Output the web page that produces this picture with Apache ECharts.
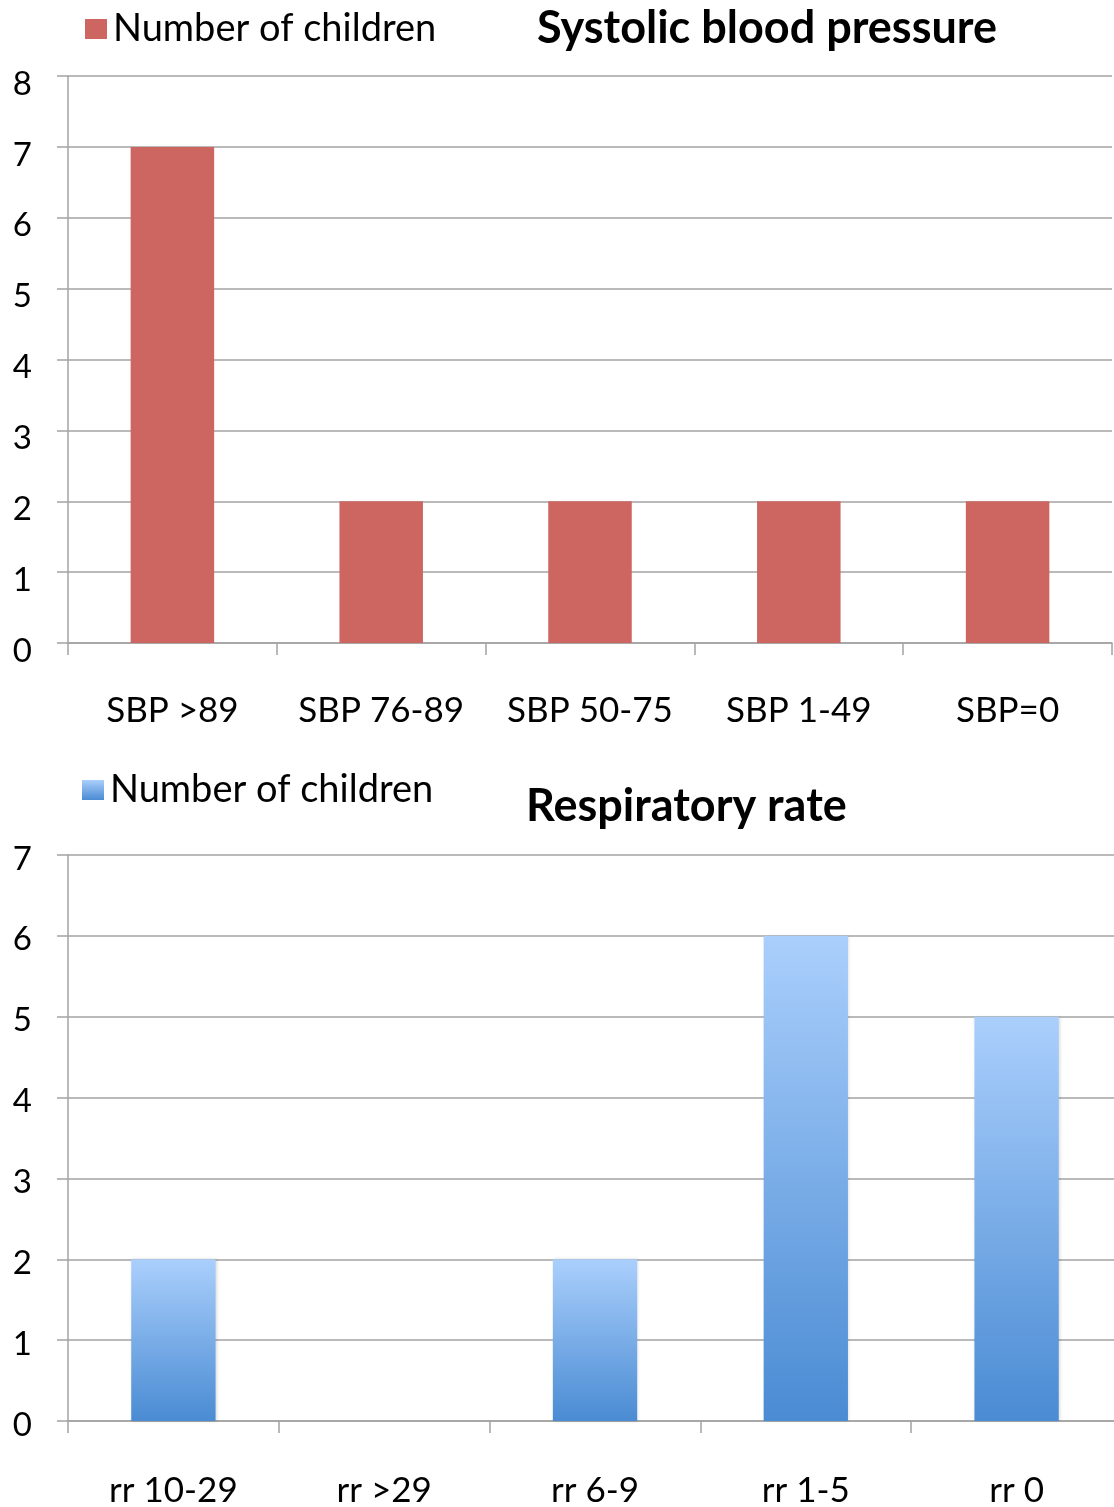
<!DOCTYPE html>
<html>
<head>
<meta charset="utf-8">
<script src="https://cdn.jsdelivr.net/npm/echarts@6/dist/echarts.min.js"></script>
<style>html,body{margin:0;padding:0;background:#fff}#c{width:1114px;height:1507px}</style>
</head>
<body>
<div id="c"></div>
<script>
const sbpCategories = ['SBP >89', 'SBP 76-89', 'SBP 50-75', 'SBP 1-49', 'SBP=0'];
const sbpValues = [7, 2, 2, 2, 2];
const rrCategories = ['rr 10-29', 'rr >29', 'rr 6-9', 'rr 1-5', 'rr 0'];
const rrValues = [2, 0, 2, 6, 5];
const seriesName = 'Number of children';
const titles = ['Systolic blood pressure', 'Respiratory rate'];

const FONT = 'Lato';
const grey = '#a3a3a3';
const chart = echarts.init(document.getElementById('c'), null, {renderer: 'canvas'});
const blueGrad = new echarts.graphic.LinearGradient(0, 0, 0, 1, [
  {offset: 0, color: '#aacffc'},
  {offset: 1, color: '#4a8bd3'}
]);
function yAxis(gi, max, lh) {
  return {
    type: 'value', gridIndex: gi, min: 0, max: max, interval: 1,
    axisLine: {show: true, lineStyle: {color: grey, width: 1.5}},
    axisTick: {show: true, length: 11, lineStyle: {color: grey, width: 1.5}},
    splitLine: {show: true, lineStyle: {color: grey, width: 1.5}},
    axisLabel: {margin: 36, color: '#000', fontFamily: FONT, fontSize: 33, verticalAlign: 'top', lineHeight: lh}
  };
}
function xAxis(gi, cats, margin) {
  return {
    type: 'category', gridIndex: gi, data: cats,
    axisLine: {show: true, lineStyle: {color: grey, width: 1.5}},
    axisTick: {show: true, length: 12, lineStyle: {color: grey, width: 1.5}},
    axisLabel: {margin: margin, color: '#000', fontFamily: FONT, fontSize: 35, interval: 0}
  };
}
chart.setOption({
  animation: false,
  backgroundColor: '#fff',
  title: [
    {text: titles[0], left: 532, top: 1, textStyle: {fontFamily: FONT, fontWeight: 'bold', fontSize: 45, color: '#000'}},
    {text: titles[1], left: 521, top: 779, textStyle: {fontFamily: FONT, fontWeight: 'bold', fontSize: 45, color: '#000'}}
  ],
  legend: [
    {data: [seriesName], left: 80, top: 5, icon: 'rect', itemWidth: 22, itemHeight: 20, itemGap: 0,
     textStyle: {fontFamily: FONT, fontSize: 38, color: '#000', padding: [0, 0, 0, 1]}, selectedMode: false},
    {data: [seriesName + ' '], left: 77, top: 766, icon: 'rect', itemWidth: 22, itemHeight: 20, itemGap: 0,
     formatter: function () { return seriesName; },
     textStyle: {fontFamily: FONT, fontSize: 38, color: '#000', padding: [0, 0, 0, 1]}, selectedMode: false}
  ],
  grid: [
    {left: 68, width: 1044, top: 76, height: 567, outerBoundsMode: 'none', containLabel: false},
    {left: 68, width: 1054, top: 855, height: 566, outerBoundsMode: 'none', containLabel: false}
  ],
  xAxis: [xAxis(0, sbpCategories, 50), xAxis(1, rrCategories, 52)],
  yAxis: [yAxis(0, 8, 16), yAxis(1, 7, 8)],
  series: [
    {name: seriesName, type: 'bar', xAxisIndex: 0, yAxisIndex: 0, data: sbpValues,
     barCategoryGap: '60%', itemStyle: {color: '#cd6661'}},
    {name: seriesName + ' ', type: 'bar', xAxisIndex: 1, yAxisIndex: 1, data: rrValues,
     barCategoryGap: '60%', itemStyle: {color: blueGrad, shadowColor: 'rgba(0,0,0,0.15)', shadowBlur: 3, shadowOffsetX: 1}}
  ]
});
</script>
</body>
</html>
